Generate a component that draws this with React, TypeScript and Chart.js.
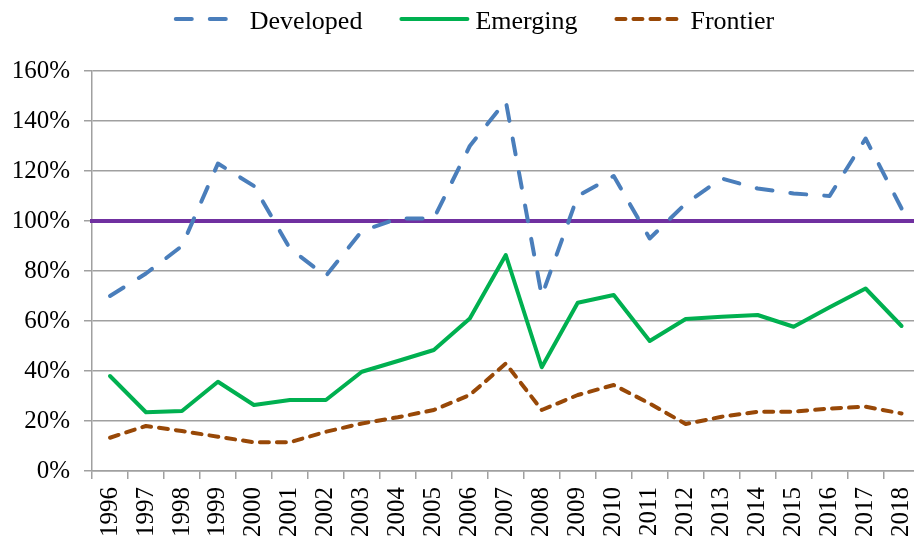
import React, { useEffect, useRef } from "react";
import { Chart, registerables } from "chart.js";

Chart.register(...registerables);

const years = [
  "1996", "1997", "1998", "1999", "2000", "2001", "2002", "2003", "2004", "2005", "2006", "2007",
  "2008", "2009", "2010", "2011", "2012", "2013", "2014", "2015", "2016", "2017", "2018",
];
const developed = [70, 79, 90, 123, 114, 89, 78, 96, 101, 101, 130, 148, 70, 110, 118, 93, 107, 117, 113, 111, 110, 133, 105];
const emerging = [38, 23.5, 24, 35.7, 26.4, 28.4, 28.4, 39.7, 44, 48.4, 61, 86.4, 41.5, 67.3, 70.4, 52, 60.8, 61.7, 62.4, 57.7, 65.5, 73, 58];
const frontier = [13.3, 18, 16, 13.7, 11.5, 11.5, 15.7, 19, 21.5, 24.4, 30.4, 43, 24.4, 30.4, 34.4, 27, 18.8, 21.7, 23.7, 23.7, 25, 25.7, 23];
const seriesNames = ["Developed", "Emerging", "Frontier"];
const referenceLevel = 100;
const yTicks = { min: 0, max: 160, step: 20 };

const SERIF = "'Liberation Serif', 'Times New Roman', serif";

const refLinePlugin = {
  id: "refLine",
  beforeDatasetsDraw(chart: any) {
    const { ctx, chartArea, scales } = chart;
    const y = scales.y.getPixelForValue(referenceLevel);
    ctx.save();
    ctx.strokeStyle = "#7030A0";
    ctx.lineWidth = 4;
    ctx.beginPath();
    ctx.moveTo(chartArea.left - 2, y);
    ctx.lineTo(chartArea.right, y);
    ctx.stroke();
    ctx.restore();
  },
};

const legendPlugin = {
  id: "customLegend",
  afterDraw(chart: any) {
    const { ctx } = chart;
    const ds = chart.data.datasets;
    ctx.save();
    ctx.font = `26px ${SERIF}`;
    const sample = 70;
    const gap = 6;
    const spacing = 37;
    const widths = ds.map((d: any) => sample + gap + ctx.measureText(d.label).width);
    const total = widths.reduce((a: number, b: number) => a + b, 0) + spacing * (ds.length - 1);
    let x = 474 - total / 2;
    const ly = 19;
    ds.forEach((d: any, i: number) => {
      ctx.save();
      ctx.strokeStyle = d.borderColor;
      ctx.lineWidth = d.borderWidth;
      ctx.lineCap = "round";
      ctx.setLineDash(d.borderDash || []);
      ctx.beginPath();
      ctx.moveTo(x + 2, ly);
      ctx.lineTo(x + sample - 2, ly);
      ctx.stroke();
      ctx.restore();
      ctx.fillStyle = "#000";
      ctx.textBaseline = "alphabetic";
      ctx.textAlign = "left";
      ctx.fillText(d.label, x + sample + gap, 29);
      x += widths[i] + spacing;
    });
    ctx.restore();
  },
};

export default function App() {
  const ref = useRef<HTMLCanvasElement>(null);
  useEffect(() => {
    if (!ref.current) return;
    const common = {
      borderWidth: 4,
      pointRadius: 0,
      pointHoverRadius: 0,
      tension: 0,
      fill: false,
      borderCapStyle: "round",
      borderJoinStyle: "round",
    };
    const chart = new Chart(ref.current, {
      type: "line",
      data: {
        labels: years,
        datasets: [
          { ...common, label: seriesNames[0], data: developed, borderColor: "#4A7EBB", borderDash: [16, 18] },
          { ...common, label: seriesNames[1], data: emerging, borderColor: "#00B050" },
          { ...common, label: seriesNames[2], data: frontier, borderColor: "#984807", borderDash: [9, 8] },
        ],
      } as any,
      options: {
        responsive: false,
        animation: false,
        devicePixelRatio: 1,
        layout: { padding: { top: 71, right: 20, left: 0, bottom: 0 } },
        plugins: { legend: { display: false }, tooltip: { enabled: false } },
        scales: {
          x: {
            offset: true,
            grid: { display: true, drawOnChartArea: false, drawTicks: true, tickLength: 8, color: "#a0a0a0", lineWidth: 1.5, offset: true },
            border: { color: "#a0a0a0", width: 1.5 },
            ticks: {
              autoSkip: false,
              minRotation: 90,
              maxRotation: 90,
              padding: 8,
              color: "#000",
              font: { family: SERIF, size: 25 },
            },
            afterFit(scale: any) {
              scale.height = 70;
            },
          },
          y: {
            min: yTicks.min,
            max: yTicks.max,
            grid: { color: "#a0a0a0", lineWidth: 1.5, tickLength: 8, drawTicks: true },
            border: { color: "#a0a0a0", width: 1.5 },
            ticks: {
              stepSize: yTicks.step,
              padding: 14,
              color: "#000",
              font: { family: SERIF, size: 25 },
              callback: (v: any) => `${v}%`,
            },
            afterFit(scale: any) {
              scale.width = 92;
            },
          },
        },
      } as any,
      plugins: [refLinePlugin, legendPlugin],
    });
    return () => chart.destroy();
  }, []);
  return (
    <div style={{ position: "fixed", left: 0, top: 0, width: 914, height: 541, overflow: "hidden", background: "#fff" }}>
      <canvas ref={ref} width={940} height={541} style={{ width: 940, height: 541, display: "block" }} />
    </div>
  );
}
